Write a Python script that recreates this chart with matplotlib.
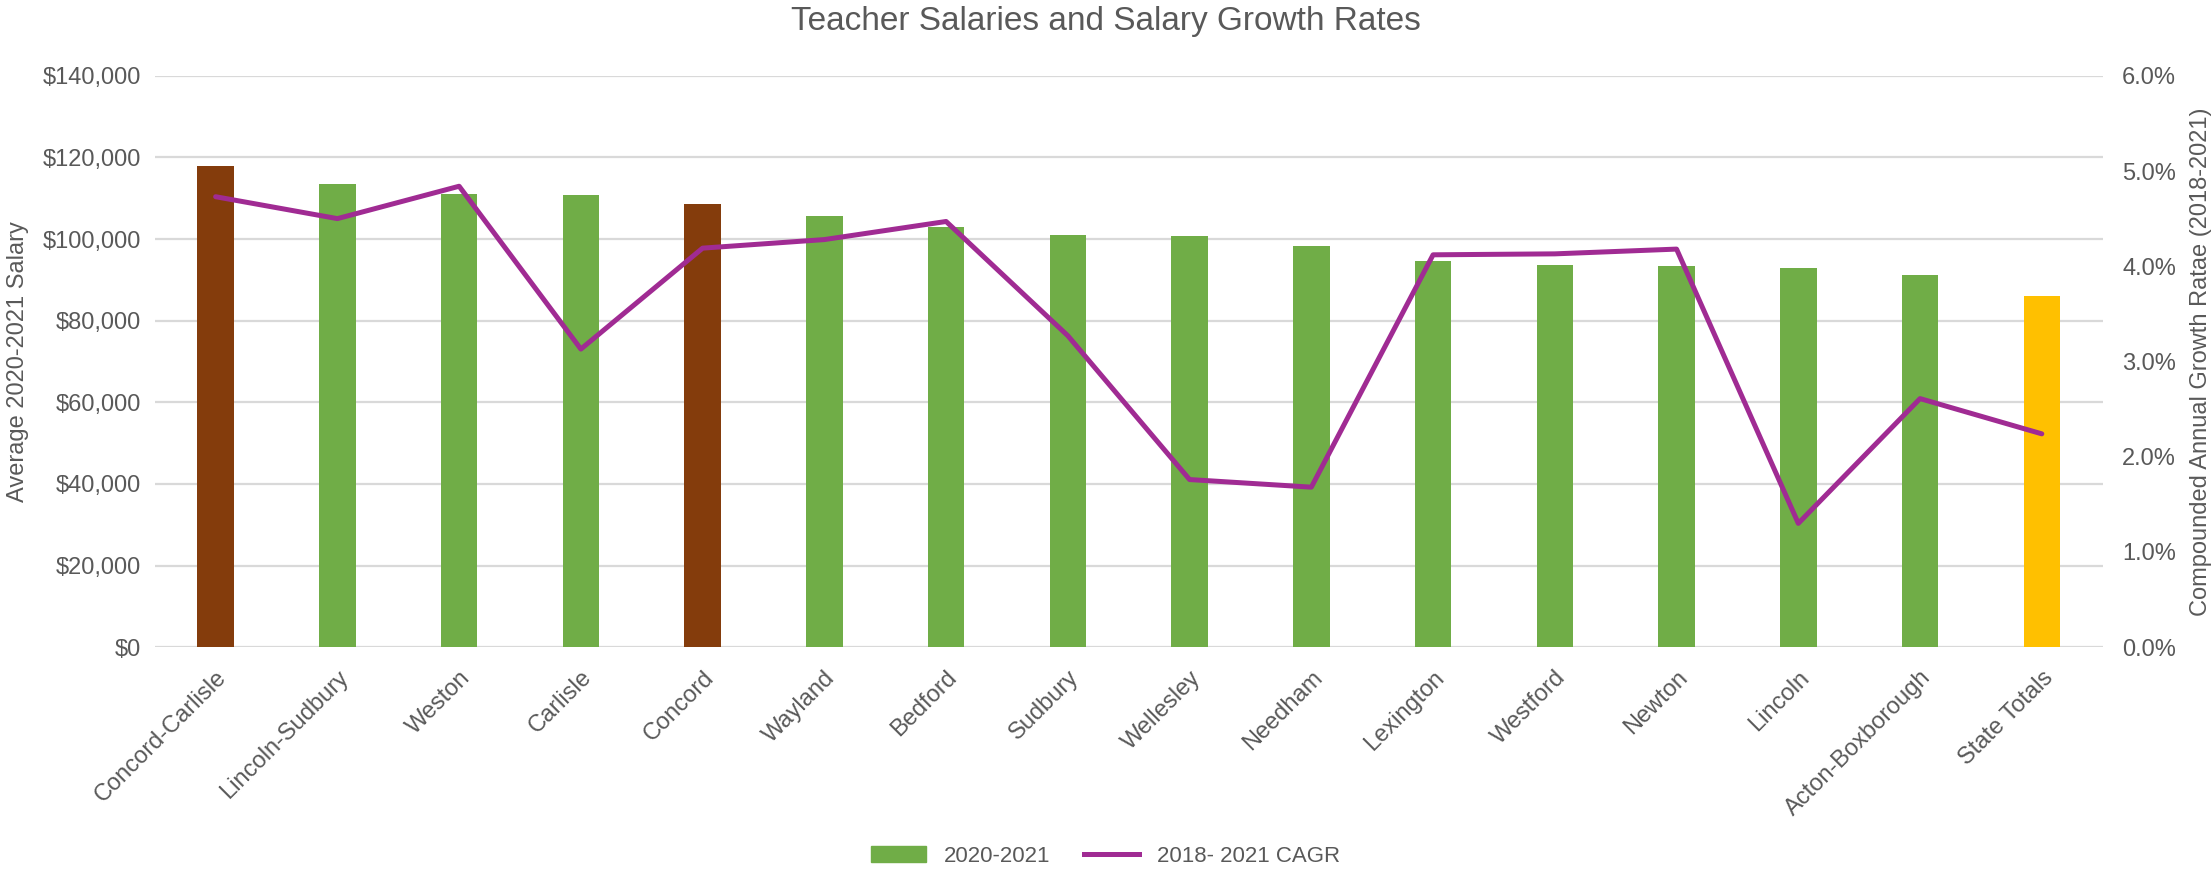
import matplotlib.pyplot as plt
from matplotlib.ticker import FuncFormatter, MultipleLocator
from matplotlib.patches import Patch
from matplotlib.lines import Line2D

plt.rcParams['font.family'] = ['Liberation Sans', 'DejaVu Sans']

districts = ["Concord-Carlisle", "Lincoln-Sudbury", "Weston", "Carlisle", "Concord",
             "Wayland", "Bedford", "Sudbury", "Wellesley", "Needham", "Lexington",
             "Westford", "Newton", "Lincoln", "Acton-Boxborough", "State Totals"]
salary = [117900, 113400, 111000, 110800, 108500, 105700, 102900, 101000,
          100700, 98300, 94500, 93600, 93300, 93000, 91100, 86100]
cagr = [4.73, 4.50, 4.84, 3.13, 4.19, 4.28, 4.47, 3.27,
        1.76, 1.68, 4.12, 4.13, 4.18, 1.30, 2.61, 2.24]
bar_colors = ["#843C0C", "#70AD47", "#70AD47", "#70AD47", "#843C0C",
              "#70AD47", "#70AD47", "#70AD47", "#70AD47", "#70AD47",
              "#70AD47", "#70AD47", "#70AD47", "#70AD47", "#70AD47", "#FFC000"]

grey = "#595959"
purple = "#A02B93"

fig = plt.figure(figsize=(22.11, 8.71), dpi=100)
ax = fig.add_axes([0.070, 0.257, 0.881, 0.656])
ax2 = ax.twinx()

x = range(len(districts))
ax.bar(x, salary, width=0.3, color=bar_colors, zorder=3)
ax2.plot(x, cagr, color=purple, linewidth=3.6, solid_capstyle='round', zorder=4)

ax.set_xlim(-0.5, len(districts) - 0.5)
ax.set_ylim(0, 140000)
ax2.set_ylim(0, 6)
ax.yaxis.set_major_locator(MultipleLocator(20000))
ax2.yaxis.set_major_locator(MultipleLocator(1))
ax.yaxis.set_major_formatter(FuncFormatter(lambda v, p: "${:,.0f}".format(v)))
ax2.yaxis.set_major_formatter(FuncFormatter(lambda v, p: "{:.1f}%".format(v)))

ax.grid(axis='y', color="#D9D9D9", linewidth=1.6, zorder=0)
ax.set_axisbelow(True)
for a in (ax, ax2):
    for s in a.spines.values():
        s.set_visible(False)
    a.tick_params(length=0, colors=grey, labelsize=17)

ax.set_xticks(list(x))
ax.set_xticklabels(districts, rotation=45, ha='right', rotation_mode='anchor', fontsize=17, color=grey)
ax.tick_params(axis='x', pad=14)
ax.tick_params(axis='y', pad=10)
ax2.tick_params(axis='y', pad=14)

ax.set_ylabel("Average 2020-2021 Salary", fontsize=17, color=grey, labelpad=10)
ax2.set_ylabel("Compounded Annual Growth Ratae (2018-2021)", fontsize=17, color=grey, labelpad=10)
fig.text(0.5, 0.975, "Teacher Salaries and Salary Growth Rates", ha='center', va='center',
         fontsize=24, color=grey)

handles = [Patch(color="#70AD47"), Line2D([0], [0], color=purple, linewidth=3.6)]
fig.legend(handles, ["2020-2021", "2018- 2021 CAGR"], loc='center', bbox_to_anchor=(0.5, 0.017),
           ncol=2, frameon=False, fontsize=16, labelcolor=grey, handlelength=2.5, columnspacing=1.5)

fig.savefig("out.png", dpi=100)
